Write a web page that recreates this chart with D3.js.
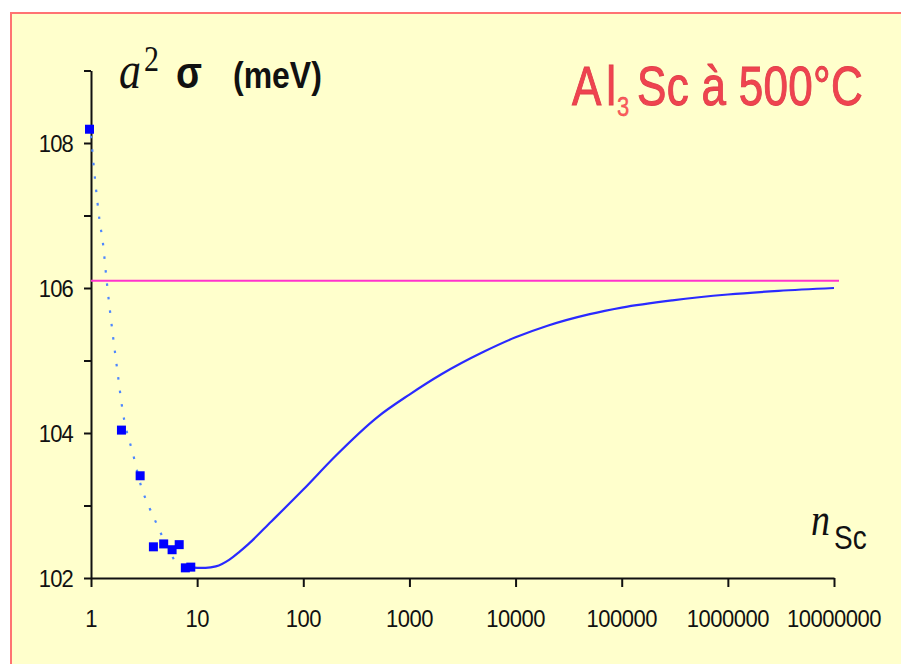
<!DOCTYPE html>
<html>
<head>
<meta charset="utf-8">
<script src="https://cdn.jsdelivr.net/npm/d3@7"></script>
<style>
  html, body { margin: 0; padding: 0; background: #ffffff; }
  svg { display: block; }
</style>
</head>
<body>
<svg id="chart" width="901" height="664"></svg>
<script>
// Cluster size n (log scale) and energy a²σ in meV
const clusterSizes = [1, 2, 3, 4, 5, 6, 7, 8, 9];
const clusterEnergies = [108.19, 104.04, 103.41, 102.43, 102.47, 102.39, 102.46, 102.14, 102.15];

// Dotted fit through the small clusters
const fitSizes = [1, 1.1, 1.2, 1.3, 1.4, 1.5, 1.75, 2, 2.5, 3, 3.5, 4, 5, 6.5, 7.5, 8.5];
const fitEnergies = [108.1, 107.45, 106.95, 106.6, 106.12, 105.72, 104.92, 104.28, 103.7, 103.24, 102.99, 102.8, 102.49, 102.2, 102.16, 102.15];

// Continuous model for larger clusters
const modelSizes = [8.5, 10, 12, 15, 20, 25, 30, 50, 100, 200, 500, 1000, 2000, 5000, 1e4, 2e4, 5e4, 1e5, 3e5, 1e6, 3e6, 1e7];
const modelEnergies = [102.15, 102.14, 102.14, 102.16, 102.25, 102.36, 102.46, 102.78, 103.22, 103.68, 104.22, 104.53, 104.81, 105.12, 105.32, 105.48, 105.64, 105.73, 105.83, 105.91, 105.96, 106.0];

// Planar interface limit
const planarEnergy = 106.1;

const xTicks = [1, 10, 100, 1000, 10000, 100000, 1000000, 10000000];
const yTicks = [102, 103, 104, 105, 106, 107, 108, 109];
const yLabels = [102, 104, 106, 108];

const svg = d3.select("#chart");

// Panel background and frame
svg.append("rect")
  .attr("x", 11).attr("y", 13)
  .attr("width", 1000).attr("height", 1000)
  .attr("fill", "#ffffcc")
  .attr("stroke", "#ff7373")
  .attr("stroke-width", 2);

const x = d3.scaleLog().domain([1, 1e7]).range([91, 834]);
const y = d3.scaleLinear().domain([102, 109]).range([578, 70.5]);

const labelFont = "'Liberation Sans', Arial, sans-serif";

// Y axis
const yAxis = svg.append("g")
  .attr("transform", "translate(91,0)")
  .call(d3.axisLeft(y).tickValues(yTicks).tickSize(7).tickSizeOuter(0).tickFormat(""));
yAxis.select(".domain").attr("stroke", "#111").attr("stroke-width", 2);
yAxis.selectAll(".tick line").attr("stroke", "#111").attr("stroke-width", 2);

svg.append("g").selectAll("text")
  .data(yLabels)
  .join("text")
  .attr("transform", d => `translate(73,${y(d)}) scale(1,1.12)`)
  .attr("dy", "0.36em")
  .attr("text-anchor", "end")
  .attr("font-family", labelFont)
  .attr("font-size", 22)
  .attr("fill", "#111")
  .attr("letter-spacing", "-0.8")
  .text(d => d);

// X axis
const xAxis = svg.append("g")
  .attr("transform", "translate(0,578)")
  .call(d3.axisBottom(x).tickValues(xTicks).tickSize(9).tickSizeOuter(0).tickFormat(""));
xAxis.select(".domain").attr("stroke", "#111").attr("stroke-width", 2);
xAxis.selectAll(".tick line").attr("stroke", "#111").attr("stroke-width", 2);

svg.append("g").selectAll("text")
  .data(xTicks)
  .join("text")
  .attr("transform", d => `translate(${x(d)},627) scale(1,1.12)`)
  .attr("text-anchor", "middle")
  .attr("font-family", labelFont)
  .attr("font-size", 22)
  .attr("fill", "#111")
  .attr("letter-spacing", "-0.5")
  .text(d => d3.format("d")(d));

// Planar limit
svg.append("line")
  .attr("x1", x(1)).attr("x2", 839)
  .attr("y1", y(planarEnergy)).attr("y2", y(planarEnergy))
  .attr("stroke", "#ff33cc")
  .attr("stroke-width", 2.2);

// Dotted fit
const line = d3.line()
  .x(d => x(d[0]))
  .y(d => y(d[1]))
  .curve(d3.curveMonotoneX);

svg.append("path")
  .datum(d3.zip(fitSizes, fitEnergies))
  .attr("d", line)
  .attr("fill", "none")
  .attr("stroke", "#4d86ff")
  .attr("stroke-width", 2.2)
  .attr("stroke-dasharray", "2.5,11");

// Model curve
svg.append("path")
  .datum(d3.zip(modelSizes, modelEnergies))
  .attr("d", line)
  .attr("fill", "none")
  .attr("stroke", "#2a2aff")
  .attr("stroke-width", 2.2);

// Cluster energies
const sq = 9;
svg.append("g").selectAll("rect")
  .data(d3.zip(clusterSizes, clusterEnergies))
  .join("rect")
  .attr("x", d => x(d[0]) - sq / 2 - 1.5)
  .attr("y", d => y(d[1]) - sq / 2)
  .attr("width", sq)
  .attr("height", sq)
  .attr("fill", "#0000ff");

// Y axis title: a² σ (meV)
const title = svg.append("text")
  .attr("transform", "translate(119,88) scale(1,1.18)")
  .attr("fill", "#111");
title.append("tspan")
  .attr("font-family", "'Liberation Serif', 'Times New Roman', serif")
  .attr("font-style", "italic")
  .attr("font-size", 44)
  .text("a");
title.append("tspan")
  .attr("font-family", "'Liberation Serif', 'Times New Roman', serif")
  .attr("font-size", 30)
  .attr("dx", 3)
  .attr("dy", -14)
  .text("2");
title.append("tspan")
  .attr("font-family", labelFont)
  .attr("font-weight", "bold")
  .attr("font-size", 38)
  .attr("dx", 17)
  .attr("dy", 14)
  .text("σ");
title.append("tspan")
  .attr("font-family", labelFont)
  .attr("font-weight", "bold")
  .attr("font-size", 32)
  .attr("x", 114)
  .text("(meV)");

// Phase label
const phase = svg.append("text")
  .attr("transform", "translate(572,105) scale(1,1.27)")
  .attr("font-family", labelFont)
  .attr("font-size", 44)
  .attr("fill", "#f0434f")
  .attr("stroke", "#e0404c")
  .attr("stroke-width", 0.8);
phase.append("tspan").text("A");
phase.append("tspan").attr("dx", 5).text("l");
phase.append("tspan")
  .attr("font-size", 22)
  .attr("stroke-width", 0.3)
  .attr("fill", "#ff5b5b")
  .attr("dx", 1)
  .attr("dy", 9)
  .text("3");
phase.append("tspan")
  .attr("x", 65)
  .attr("dy", -9)
  .attr("letter-spacing", "0.3")
  .text("Sc à 500°C");

// X axis title: n_Sc
const xt = svg.append("text")
  .attr("transform", "translate(811,535) scale(1,1.2)")
  .attr("fill", "#111");
xt.append("tspan")
  .attr("font-family", "'Liberation Serif', 'Times New Roman', serif")
  .attr("font-style", "italic")
  .attr("font-size", 38)
  .text("n");
xt.append("tspan")
  .attr("font-family", labelFont)
  .attr("font-size", 28)
  .attr("dx", 4)
  .attr("dy", 12)
  .text("Sc");
</script>
</body>
</html>
